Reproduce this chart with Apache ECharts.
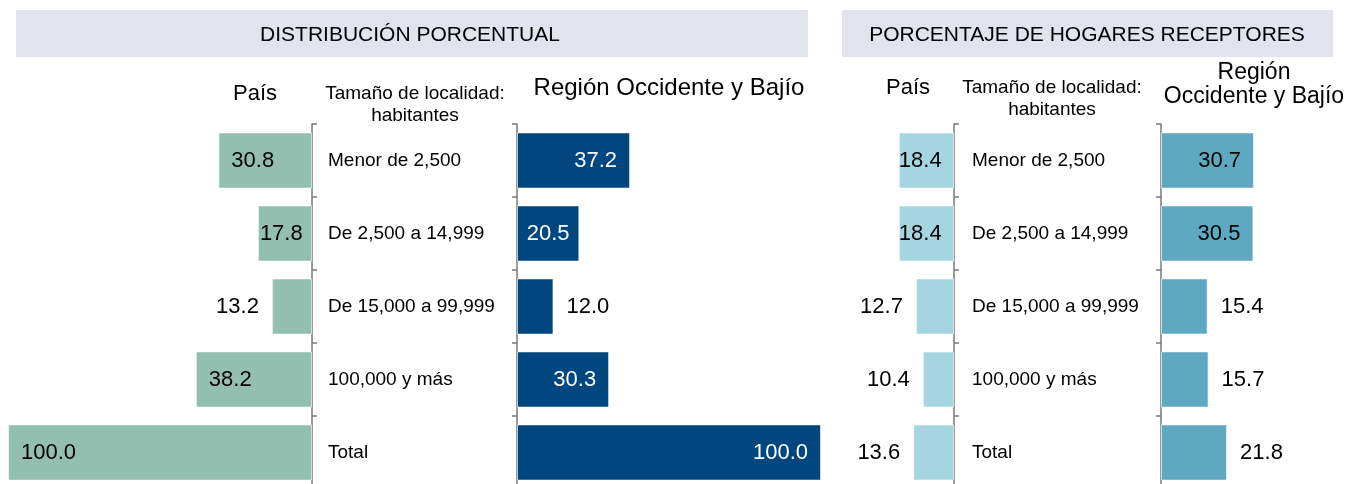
<!DOCTYPE html>
<html>
<head>
<meta charset="utf-8">
<title>Hogares receptores - Región Occidente y Bajío</title>
<script src="https://cdn.jsdelivr.net/npm/echarts@6/dist/echarts.min.js"></script>
<style>
    html, body { margin: 0; padding: 0; background: #fff; }
    #chart_receptores { width: 1351px; height: 484px; }
</style>
</head>
<body>
<div id="chart_receptores"></div>
<script>

// Data
// ------------------------------

var categories = ['Menor de 2,500', 'De 2,500 a 14,999', 'De 15,000 a 99,999', '100,000 y más', 'Total'];

// Distribución porcentual
var distPais = [30.8, 17.8, 13.2, 38.2, 100.0];
var distRegion = [37.2, 20.5, 12.0, 30.3, 100.0];

// Porcentaje de hogares receptores
var recepPais = [18.4, 18.4, 12.7, 10.4, 13.6];
var recepRegion = [30.7, 30.5, 15.4, 15.7, 21.8];


// Setup module
// ------------------------------

var ChartReceptores = function() {

    var fontFamily = '"Liberation Sans", Arial, sans-serif';
    var axisColor = '#7a7a7a';

    // One bar series per panel, label placement like the Excel original
    var barSeries = function(idx, values, color, opts) {
        return {
            type: 'bar',
            xAxisIndex: idx,
            yAxisIndex: idx,
            barCategoryGap: '23%',
            itemStyle: {
                color: color,
                borderColor: 'rgba(255,255,255,0.6)',
                borderWidth: 1
            },
            label: {
                show: true,
                fontSize: 22,
                fontFamily: fontFamily,
                formatter: function(p) {
                    return p.value.toFixed(1);
                }
            },
            data: values.map(function(v) {
                var lbl;
                if (v < opts.outsideBelow) {
                    lbl = { position: opts.outside, distance: 13, color: '#000' };
                }
                else if (v < opts.midBelow) {
                    lbl = { position: opts.mid, distance: opts.midDistance, color: opts.insideColor };
                }
                else {
                    lbl = { position: opts.inside, distance: 13, color: opts.insideColor };
                }
                return { value: v, label: lbl };
            })
        };
    };

    var catAxis = function(idx, position, showLabels, margin) {
        return {
            type: 'category',
            gridIndex: idx,
            data: categories,
            inverse: true,
            position: position,
            axisLine: { show: true, lineStyle: { color: axisColor, width: 1.5 } },
            axisTick: { show: true, length: 5, lineStyle: { color: axisColor, width: 1.5 } },
            axisLabel: {
                show: showLabels,
                margin: margin,
                align: 'left',
                fontSize: 19,
                fontFamily: fontFamily,
                color: '#000'
            }
        };
    };

    var valAxis = function(idx, max, inverse) {
        return {
            type: 'value',
            gridIndex: idx,
            min: 0,
            max: max,
            inverse: inverse,
            show: false,
            splitLine: { show: false }
        };
    };

    // grid runs a little past the bottom edge, as in the original
    var panelGrid = function(left, width) {
        return { left: left, top: 124, width: width, height: 365, outerBoundsMode: 'none' };
    };

    var headText = function(text, x, y, size) {
        return {
            type: 'text',
            x: x,
            y: y,
            style: {
                text: text,
                fill: '#000',
                font: size + 'px ' + fontFamily,
                textAlign: 'center',
                textVerticalAlign: 'middle'
            }
        };
    };

    var _chart = function() {
        if (typeof echarts == 'undefined') {
            console.warn('Warning - echarts.min.js is not loaded.');
            return;
        }

        var element = document.getElementById('chart_receptores');
        if (!element) {
            return;
        }

        var chart = echarts.init(element, null, { renderer: 'canvas' });

        chart.setOption({
            animation: false,
            backgroundColor: '#fff',
            textStyle: { fontFamily: fontFamily },

            grid: [
                panelGrid(8, 304),
                panelGrid(517, 304),
                panelGrid(834, 120),
                panelGrid(1161, 121.2)
            ],

            xAxis: [
                valAxis(0, 100, true),
                valAxis(1, 100, false),
                valAxis(2, 40, true),
                valAxis(3, 40, false)
            ],

            yAxis: [
                catAxis(0, 'right', true, 16),
                catAxis(1, 'left', false, 8),
                catAxis(2, 'right', true, 18),
                catAxis(3, 'left', false, 8)
            ],

            // Header bands and panel captions
            graphic: [
                { type: 'rect', shape: { x: 16, y: 10, width: 792, height: 47 }, style: { fill: '#e1e4ec' } },
                { type: 'rect', shape: { x: 842, y: 10, width: 491, height: 47 }, style: { fill: '#e1e4ec' } },
                headText('DISTRIBUCIÓN PORCENTUAL', 410, 35, 21),
                headText('PORCENTAJE DE HOGARES RECEPTORES', 1087, 35, 21),
                headText('País', 255, 94, 22),
                headText('Tamaño de localidad:', 415, 94, 19),
                headText('habitantes', 415, 116, 19),
                headText('Región Occidente y Bajío', 669, 88, 24),
                headText('País', 908, 88, 22),
                headText('Tamaño de localidad:', 1052, 88, 19),
                headText('habitantes', 1052, 110, 19),
                headText('Región', 1254, 73, 23),
                headText('Occidente y Bajío', 1254, 97, 23)
            ],

            series: [
                barSeries(0, distPais, '#93bfb1', {
                    outsideBelow: 15, midBelow: 25, outside: 'left',
                    mid: 'insideLeft', midDistance: 2, inside: 'insideLeft', insideColor: '#000'
                }),
                barSeries(1, distRegion, '#00467f', {
                    outsideBelow: 15, midBelow: 25, outside: 'right',
                    mid: 'inside', midDistance: 0, inside: 'insideRight', insideColor: '#fff'
                }),
                barSeries(2, recepPais, '#a4d5e0', {
                    outsideBelow: 15, midBelow: 25, outside: 'left',
                    mid: 'insideLeft', midDistance: 0, inside: 'insideLeft', insideColor: '#000'
                }),
                barSeries(3, recepRegion, '#5ea9c1', {
                    outsideBelow: 25, midBelow: 25, outside: 'right',
                    mid: 'insideRight', midDistance: 13, inside: 'insideRight', insideColor: '#000'
                })
            ]
        });

        // Resize
        window.addEventListener('resize', function() {
            chart.resize();
        });
    };

    return {
        init: function() {
            _chart();
        }
    };
}();


// Initialize module
// ------------------------------

document.addEventListener('DOMContentLoaded', function() {
    ChartReceptores.init();
});
</script>
</body>
</html>
